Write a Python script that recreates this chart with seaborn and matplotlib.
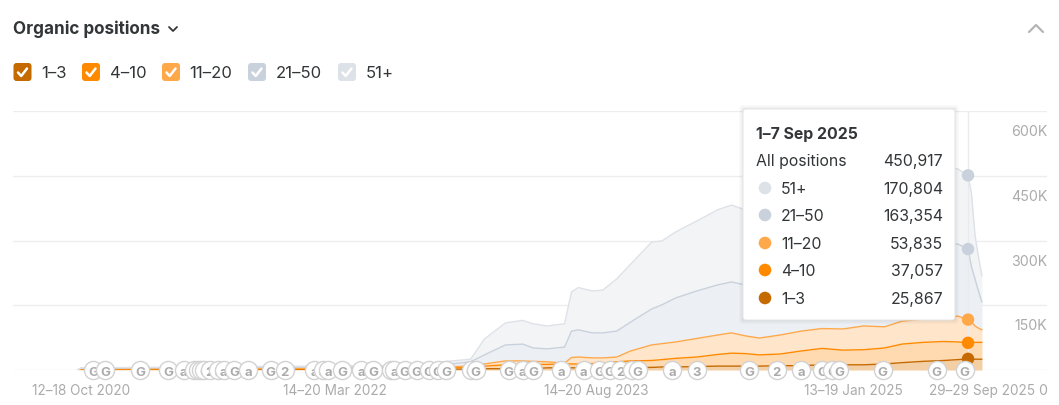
import numpy as np
import pandas as pd
import matplotlib.pyplot as plt
from matplotlib.patches import FancyBboxPatch, Circle
import seaborn as sns

# weeks counted from the first date tick (12 Oct 2020)
weeks = [-1, 0, 100, 104, 112, 116, 122, 127, 130, 134, 139, 141, 143, 147, 150, 154, 158, 164, 167, 171,
         177, 183, 187, 191, 195, 201, 207, 213, 219, 225, 231, 236, 242, 248, 252, 255, 256, 257, 258, 259]

# top of each stacked band, thousands
top_1_3 = [0, 1, 1, 2, 2, 3, 3, 3, 3, 5, 5, 5, 5, 5, 5, 6, 6, 6, 7, 7,
           8, 9, 9, 9, 9, 10, 10, 12, 12, 12, 14, 17, 20, 22, 24, 25.867, 25, 25, 25, 25]
top_4_10 = [0, 2, 3, 5, 6, 9, 12, 12, 13, 13, 14, 14, 14, 15, 16, 19, 21, 22, 24, 27,
            30, 36, 39, 38, 35, 37, 44, 50, 46, 47, 51, 60, 64, 66, 65, 62.924, 64, 64, 64, 64]
top_11_20 = [0, 3, 5, 7, 9, 14, 21, 21, 20, 19, 16, 29, 30, 28, 28, 30, 44, 58, 61, 65,
             73, 81, 86, 79, 74, 81, 90, 96, 95, 102, 100, 113, 118, 118, 125, 116.759, 111, 102, 97, 93]
top_21_50 = [0, 4, 8, 12, 19, 35, 58, 60, 51, 49, 53, 90, 93, 86, 86, 90, 111, 141, 151, 167,
             183, 197, 204, 197, 192, 199, 211, 229, 234, 243, 252, 266, 280, 290, 292, 280.113, 239, 211, 183, 157]
top_51 = [0, 5, 11, 19, 25, 72, 109, 115, 107, 102, 107, 181, 191, 183, 185, 211, 245, 296, 299, 320,
          345, 371, 382, 371, 368, 384, 408, 426, 438, 447, 454, 461, 466, 468, 466, 450.917, 408, 313, 262, 218]

band_names = ['1–3', '4–10', '11–20', '21–50', '51+']
band_colors = ['#C46A00', '#FF8A00', '#FFA84A', '#C9D1DC', '#DDE1E8']
fill_colors = ['#F3CFA6', '#FFD9B0', '#FFE5CA', '#ECEFF3', '#F2F4F6']

tick_weeks = [0, 73, 148, 222, 259]
tick_labels = ['12–18 Oct 2020', '14–20 Mar 2022', '14–20 Aug 2023', '13–19 Jan 2025', '29–29 Sep 2025']
y_ticks = [0, 150, 300, 450, 600]
y_labels = ['0', '150K', '300K', '450K', '600K']

# annotation badges along the axis
event_weeks = [3.5, 7, 17, 25, 29.5, 32.5, 33.5, 34.5, 35.5, 37, 39.5, 41, 44, 48, 54.5, 58.5, 67, 69.5, 71, 75,
               80.5, 84, 89, 90, 93, 96.5, 100, 102.5, 105, 112, 113.5, 123, 127, 130, 138, 144.5, 149, 152, 155,
               158.5, 160, 170, 177, 192, 200, 207, 213, 216, 218, 230.5, 246, 254]
event_marks = ['G', 'G', 'G', 'G', 'a', 'G', 'G', 'G', 'G', '2', 'a', 'a', 'G', 'a', 'G', '2', 'a', 'a', 'a', 'G',
               'a', 'G', 'a', 'a', 'G', 'G', 'G', 'G', 'G', 'G', 'G', 'G', 'a', 'G', 'a', 'a', 'G', 'G', '2',
               'G', 'G', 'a', '3', 'G', '2', 'a', 'G', 'G', 'G', 'G', 'G', 'G']

tip_title = '1–7 Sep 2025'
tip_names = ['All positions', '51+', '21–50', '11–20', '4–10', '1–3']
tip_values = ['450,917', '170,804', '163,354', '53,835', '37,057', '25,867']
tip_week = 255

sns.set_theme(style='white')
plt.rcParams['font.family'] = ['Inter', 'DejaVu Sans']

W, H = 1059, 406
start = pd.Timestamp('2020-10-12')
to_date = lambda w: start + pd.to_timedelta(np.asarray(w) * 7, unit='D')
dates = to_date(weeks)

tops = [top_1_3, top_4_10, top_11_20, top_21_50, top_51]
df = pd.concat([pd.DataFrame({'date': dates, 'top': t, 'band': n}) for t, n in zip(tops, band_names)])

fig = plt.figure(figsize=(W / 100, H / 100), dpi=100, facecolor='white')
ax = fig.add_axes([13 / W, 1 - 371 / H, (1047 - 13) / W, (371 - 112) / H])

# stacked areas
lower = np.zeros(len(weeks))
for t, c in zip(tops, fill_colors):
    ax.fill_between(dates, lower, t, color=c, lw=0, zorder=2)
    lower = np.array(t)

sns.lineplot(data=df, x='date', y='top', hue='band', palette=dict(zip(band_names, band_colors)),
             estimator=None, legend=False, linewidth=1, ax=ax, zorder=3)

ax.set_xlim(to_date(-19.55), to_date(277.7))
ax.set_ylim(0, 600)
ax.set_yticks(y_ticks)
ax.set_yticklabels([])
ax.set_xticks(to_date(tick_weeks))
ax.set_xticklabels(tick_labels, color='#ABABAB', fontsize=9.8)
ax.tick_params(axis='both', length=0)
ax.tick_params(axis='x', pad=9.3)
ax.set_xlabel('')
ax.set_ylabel('')
ax.grid(axis='y', color='#EDEDED', lw=1)
ax.set_axisbelow(True)
sns.despine(ax=ax, left=True, right=True, top=True, bottom=True)

for v, lab in zip(y_ticks, y_labels):
    ax.annotate(lab, xy=(1, v), xycoords=ax.get_yaxis_transform(), xytext=(0, -14.5), textcoords='offset points',
                ha='right', va='center', color='#ABABAB', fontsize=10.2, annotation_clip=False)

# crosshair and hover dots
tip_date = to_date(tip_week)
ax.axvline(tip_date, color='#E9EBEE', lw=1, zorder=4)
i = weeks.index(tip_week)
dots = pd.DataFrame({'date': [tip_date] * 5, 'top': [t[i] for t in tops], 'band': band_names})
dot_palette = dict(zip(band_names, ['#C46A00', '#FF8A00', '#FFA84A', '#C9D1DC', '#C9D1DC']))
sns.scatterplot(data=dots, x='date', y='top', hue='band', palette=dot_palette,
                s=80, linewidth=0, legend=False, ax=ax, zorder=5, clip_on=False)
ax.set_xlabel('')
ax.set_ylabel('')

# badges, later ones sit over earlier ones
for n, (w, m) in enumerate(zip(event_weeks, event_marks)):
    d = to_date(w)
    ax.scatter([d], [0], s=170, facecolor='white', edgecolor='#D2D2D2', linewidth=1, zorder=6 + n * 0.01, clip_on=False)
    ax.text(d, 0, m, ha='center', va='center_baseline', color='#ABABAB', fontsize=9.5, fontweight='bold',
            zorder=6 + n * 0.01 + 0.001, clip_on=False)

# page furniture drawn in pixel coordinates
ui = fig.add_axes([0, 0, 1, 1], zorder=10)
ui.set_xlim(0, W)
ui.set_ylim(H, 0)
ui.axis('off')
ui.patch.set_alpha(0)

ink = '#333638'
ui.text(13, 29, 'Organic positions', fontsize=12.3, fontweight='bold', color=ink, va='center')
ui.plot([169, 173, 177], [28, 32, 28], color=ink, lw=1.3)
ui.plot([1029, 1036, 1043], [33, 26, 33], color='#B5B5B5', lw=1.6)

box_x = [13.5, 82, 162, 248, 338]
text_x = [41, 110, 189, 276, 366]
box_colors = ['#C46A00', '#FF8A00', '#FFA84A', '#C9D1DC', '#DDE1E8']
for bx, tx, c, n in zip(box_x, text_x, box_colors, band_names):
    ui.add_patch(FancyBboxPatch((bx + 2, 66), 14, 14, boxstyle='round,pad=2,rounding_size=3', fc=c, ec='none'))
    ui.plot([bx + 4.5, bx + 7.7, bx + 13.5], [73.5, 77, 69.5], color='white', lw=1.8, solid_capstyle='round')
    ui.text(tx, 74, n, fontsize=12, color=ink, va='center')

# tooltip
for grow, a in zip([4, 2.5, 1], [0.02, 0.03, 0.05]):
    ui.add_patch(FancyBboxPatch((745, 112), 208, 207, boxstyle=f'round,pad={2 + grow},rounding_size=3', fc='#000000',
                                ec='none', alpha=a))
ui.add_patch(FancyBboxPatch((745, 112), 208, 207, boxstyle='round,pad=2,rounding_size=3', fc='white', ec='#E9E9E9', lw=0.8))
ui.text(756, 135, tip_title, fontsize=11.4, fontweight='bold', color=ink, va='center')
row_y = [162, 190, 217, 245, 272, 300]
dot_y = [161, 189, 216, 244, 271, 299]
dot_colors = [None, '#DDE1E8', '#C9D1DC', '#FFA84A', '#FF8A00', '#C46A00']
for y, dy, name, val, c in zip(row_y, dot_y, tip_names, tip_values, dot_colors):
    if c is None:
        ui.text(756, y, name, fontsize=11.4, color=ink, va='center')
    else:
        ui.add_patch(Circle((765, dy), 6.3, fc=c, ec='none'))
        ui.text(781, y, name, fontsize=11.4, color=ink, va='center')
    ui.text(943, y, val, fontsize=11.4, color=ink, va='center', ha='right')

fig.savefig('out.png', dpi=100)
